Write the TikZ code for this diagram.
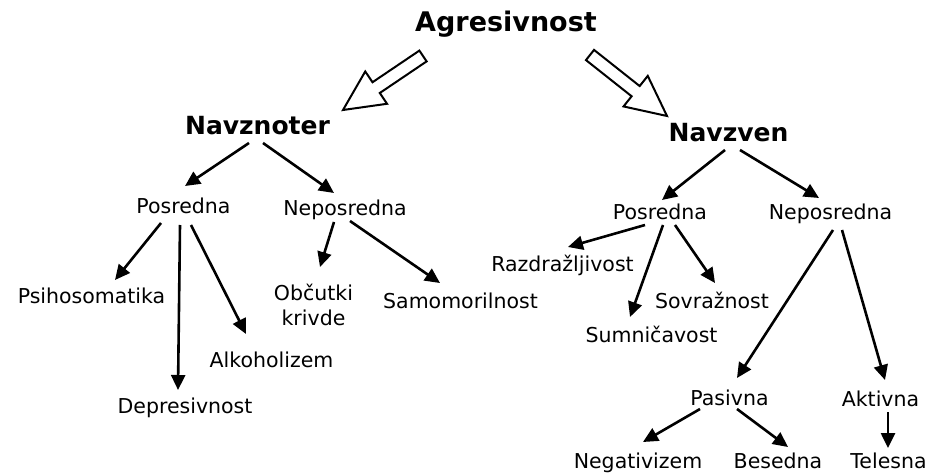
\documentclass[tikz,border=0pt]{standalone}
\usepackage{fontspec}
\setmainfont{DejaVu Sans}
\usetikzlibrary{arrows.meta, calc}

% hollow block arrow from #1 (tail) to #2 (tip)
\newcommand\hollowarrow[2]{%
  \coordinate (hb) at ($(#2)!40pt!(#1)$);
  \draw[hollow] ($(#1)!6.5pt!90:(#2)$) -- ($(hb)!6.5pt!90:(#2)$) -- ($(hb)!19.5pt!90:(#2)$) -- (#2)
    -- ($(hb)!19.5pt!-90:(#2)$) -- ($(hb)!6.5pt!-90:(#2)$) -- ($(#1)!6.5pt!-90:(#2)$) -- cycle;}

\begin{document}
\begin{tikzpicture}[
  x=1pt, y=-1pt,
  root/.style={font=\fontsize{27}{30}\selectfont\bfseries, inner sep=0, anchor=base},
  side/.style={font=\fontsize{25}{28}\selectfont\bfseries, inner sep=0, anchor=base},
  leaf/.style={font=\fontsize{20.5}{25}\selectfont, inner sep=0, anchor=base},
  arr/.style={line width=2.6pt, -{Triangle[length=15pt, width=14pt]}},
  hollow/.style={line width=2pt, line join=miter, fill=white}
]
\fill[white] (0,0) rectangle (930,476);
\useasboundingbox (0,0) rectangle (930,476);

\node[root] (agr) at (506,32) {Agresivnost};
\node[side] (noter) at (257.5,135) {Navznoter};
\node[side] (zven) at (728.5,142) {Navzven};

% navznoter
\node[leaf] (posl) at (183.5,214) {Posredna};
\node[leaf] (nepl) at (345,215) {Neposredna};
\node[leaf] (psi) at (91.5,303) {Psihosomatika};
\node[leaf] (depr) at (185,413) {Depresivnost};
\node[leaf] (alko) at (271.5,367) {Alkoholizem};
\node[leaf, align=center] (obc) at (313.5,325) {Občutki\\krivde};
\node[leaf] (samo) at (460.5,308) {Samomorilnost};

% navzven
\node[leaf] (posr) at (660,220) {Posredna};
\node[leaf] (nepr) at (830.5,220) {Neposredna};
\node[leaf] (razd) at (562.5,271) {Razdražljivost};
\node[leaf] (sovr) at (712,308) {Sovražnost};
\node[leaf] (sumn) at (651.5,342) {Sumničavost};
\node[leaf] (pas) at (729.5,405) {Pasivna};
\node[leaf] (akt) at (880.5,406) {Aktivna};
\node[leaf] (neg) at (638,468) {Negativizem};
\node[leaf] (bes) at (778,468) {Besedna};
\node[leaf] (tel) at (888.5,468) {Telesna};

\coordinate (lt) at ([shift={(-83,24)}]agr.base);
\coordinate (lh) at ([shift={(85.5,-25)}]noter.base);
\coordinate (rt) at ([shift={(84,23)}]agr.base);
\coordinate (rh) at ([shift={(-61.5,-26)}]zven.base);
\hollowarrow{lt}{lh}
\hollowarrow{rt}{rh}

\draw[arr] ([shift={(-8.5,8)}]noter.base) -- ([shift={(1.5,-28)}]posl.base);
\draw[arr] ([shift={(5.5,8)}]noter.base) -- ([shift={(-11,-22)}]nepl.base);
\draw[arr] ([shift={(-3.5,8)}]zven.base) -- ([shift={(2,-20)}]posr.base);
\draw[arr] ([shift={(11.5,8)}]zven.base) -- ([shift={(-11.5,-22)}]nepr.base);

\draw[arr] ([shift={(-22.5,9)}]posl.base) -- ([shift={(23.5,-23)}]psi.base);
\draw[arr] ([shift={(-3.5,11)}]posl.base) -- ([shift={(-7,-23)}]depr.base);
\draw[arr] ([shift={(7.5,11)}]posl.base) -- ([shift={(-25.5,-33)}]alko.base);
\draw[arr] ([shift={(-11,7)}]nepl.base) -- ([shift={(6.5,-58)}]obc.base);
\draw[arr] ([shift={(5,6)}]nepl.base) -- ([shift={(-20.5,-25)}]samo.base);

\draw[arr] ([shift={(-15,5)}]posr.base) -- ([shift={(5.5,-24)}]razd.base);
\draw[arr] ([shift={(3,5)}]posr.base) -- ([shift={(-21.5,-25)}]sumn.base);
\draw[arr] ([shift={(15,5)}]posr.base) -- ([shift={(3,-25)}]sovr.base);
\draw[arr] ([shift={(2.5,10)}]nepr.base) -- ([shift={(7.5,-27)}]pas.base);
\draw[arr] ([shift={(11.5,10)}]nepr.base) -- ([shift={(4.5,-26)}]akt.base);

\draw[arr] ([shift={(-29.5,4)}]pas.base) -- ([shift={(5,-26)}]neg.base);
\draw[arr] ([shift={(7.5,4)}]pas.base) -- ([shift={(10,-21)}]bes.base);
\draw[arr] ([shift={(7.5,6)}]akt.base) -- ([shift={(-0.5,-20)}]tel.base);
\end{tikzpicture}
\end{document}
